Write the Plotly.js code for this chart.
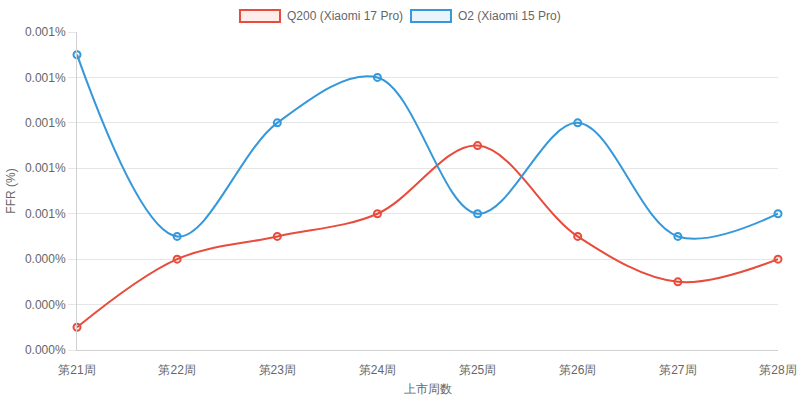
<!DOCTYPE html>
<html><head><meta charset="utf-8">
<script src="https://cdn.plot.ly/plotly-3.0.1.min.js"></script>
<style>html,body{margin:0;padding:0;background:#fff}#c{width:800px;height:401px}</style>
</head><body><div id="c"></div>
<script>
const weeks = ['第21周','第22周','第23周','第24周','第25周','第26周','第27周','第28周'];
const q200 = [0.0001, 0.0004, 0.0005, 0.0006, 0.0009, 0.0005, 0.0003, 0.0004];
const o2 = [0.0013, 0.0005, 0.0010, 0.0012, 0.0006, 0.0010, 0.0005, 0.0006];
const yTicks = [0, 0.0002, 0.0004, 0.0006, 0.0008, 0.0010, 0.0012, 0.0014];
const yTickText = yTicks.map(v => v.toFixed(3) + '%');
const names = ['Q200 (Xiaomi 17 Pro)', 'O2 (Xiaomi 15 Pro)'];
const red = '#e74c3c', blue = '#3498db';
const redFill = 'rgba(231,76,60,0.1)', blueFill = 'rgba(52,152,219,0.1)';
const font = 'Liberation Sans, Arial, sans-serif';

function series(y, name, c, f) {
  return {x: weeks, y: y, name: name, type: 'scatter', mode: 'lines+markers',
    line: {color: c, width: 2, shape: 'spline', smoothing: 1},
    marker: {symbol: 'circle', size: 7, color: f, line: {color: c, width: 2}},
    showlegend: false, hoverinfo: 'skip', cliponaxis: false};
}
const data = [
  series(q200, names[0], red, redFill),
  series(o2, names[1], blue, blueFill)
];
// custom legend (Chart.js style boxes)
const legendBoxes = [
  {x0: 0.2325, x1: 0.2896, color: red, fill: redFill, tx: 0.2967, name: names[0]},
  {x0: 0.4765, x1: 0.5335, color: blue, fill: blueFill, tx: 0.5407, name: names[1]}
];
const shapes = legendBoxes.map(b => ({type: 'rect', xref: 'paper', yref: 'paper',
  x0: b.x0, x1: b.x1, y0: 1.0314, y1: 1.0692, fillcolor: b.fill, line: {color: b.color, width: 2}}));
const annotations = legendBoxes.map(b => ({xref: 'paper', yref: 'paper', x: b.tx, y: 1.0503,
  xanchor: 'left', yanchor: 'middle', text: b.name, showarrow: false,
  font: {family: font, size: 12, color: '#666'}}));
const layout = {
  width: 800, height: 401,
  margin: {l: 77, r: 22, t: 32, b: 51},
  paper_bgcolor: '#fff', plot_bgcolor: '#fff',
  font: {family: font, size: 12, color: '#666'},
  showlegend: false,
  shapes: shapes, annotations: annotations,
  xaxis: {type: 'category', range: [0, 7], showgrid: false, zeroline: false,
    showline: true, linecolor: '#d0d0d0', linewidth: 1, ticks: '', ticklabelstandoff: 9,
    tickfont: {family: font, size: 12, color: '#666'},
    title: {text: '上市周数', font: {family: font, size: 12, color: '#666'}, standoff: 8}},
  yaxis: {range: [0, 0.0014], tickvals: yTicks, ticktext: yTickText,
    showgrid: true, gridcolor: '#e6e6e6', gridwidth: 1, zeroline: false,
    showline: true, linecolor: '#d0d0d0', linewidth: 1,
    ticks: 'outside', ticklen: 8, tickcolor: '#e6e6e6',
    tickfont: {family: font, size: 12, color: '#666'},
    title: {text: 'FFR (%)', font: {family: font, size: 12, color: '#666'}, standoff: 6}}
};
Plotly.newPlot('c', data, layout, {displayModeBar: false, staticPlot: true});
</script></body></html>
